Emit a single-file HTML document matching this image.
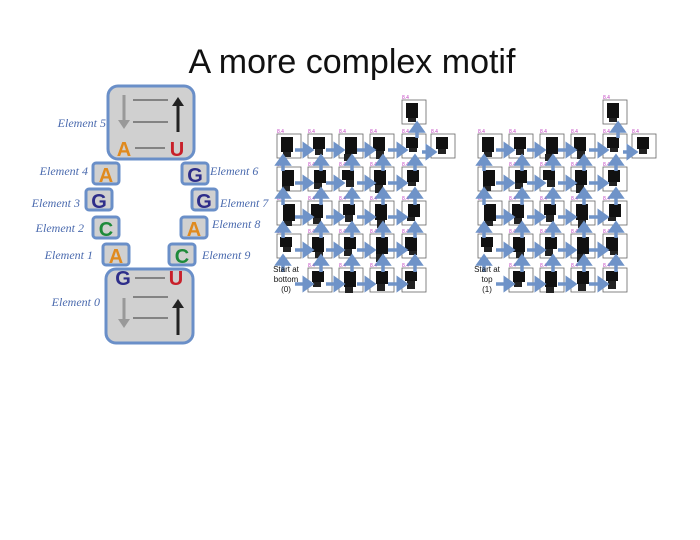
<!DOCTYPE html>
<html><head><meta charset="utf-8"><style>
body{margin:0;background:#fff;width:700px;height:540px;overflow:hidden}
svg{display:block}
.t{font-family:"Liberation Sans",sans-serif}
.el{font-family:"Liberation Serif",serif;font-style:italic;font-size:12px;fill:#4a6aae}
.L{font-family:"Liberation Sans",sans-serif;font-weight:bold;font-size:20px}
</style></head><body>
<svg id="s" width="700" height="540" xmlns="http://www.w3.org/2000/svg">
<defs>
<marker id="ab" markerWidth="5" markerHeight="5" refX="2.5" refY="2.5" orient="auto" markerUnits="strokeWidth"><path d="M0,0 L3.5,2.5 L0,5z" fill="#6f93c8"/></marker>
<marker id="ag" markerWidth="4" markerHeight="4" refX="2" refY="2" orient="auto" markerUnits="strokeWidth"><path d="M0,0 L3,2 L0,4z" fill="#999"/></marker>
<marker id="ak" markerWidth="4" markerHeight="4" refX="2" refY="2" orient="auto" markerUnits="strokeWidth"><path d="M0,0 L3,2 L0,4z" fill="#222"/></marker>
</defs>
<text x="352" y="73" text-anchor="middle" class="t" font-size="34" fill="#111">A more complex motif</text>
<g stroke="#6a8fc8" stroke-width="3" fill="#d0d0d0">
<rect x="108" y="86" width="86" height="73" rx="10"/>
<rect x="106" y="269" width="87" height="74" rx="10"/>
<rect x="93" y="163" width="26" height="21" rx="3"/>
<rect x="182" y="163" width="26" height="21" rx="3"/>
<rect x="86" y="189" width="26" height="21" rx="3"/>
<rect x="192" y="189" width="25" height="21" rx="3"/>
<rect x="93" y="217" width="26" height="21" rx="3"/>
<rect x="181" y="217" width="26" height="21" rx="3"/>
<rect x="103" y="244" width="26" height="21" rx="3"/>
<rect x="169" y="244" width="26" height="21" rx="3"/>
</g>
<g stroke="#555" stroke-width="1.2">
<line x1="133" y1="100" x2="168" y2="100"/><line x1="133" y1="122" x2="168" y2="122"/><line x1="135" y1="148" x2="165" y2="148"/>
<line x1="135" y1="278" x2="165" y2="278"/><line x1="133" y1="297" x2="168" y2="297"/><line x1="133" y1="318" x2="168" y2="318"/>
</g>
<line x1="124" y1="95" x2="124" y2="126" stroke="#999" stroke-width="3" marker-end="url(#ag)"/>
<line x1="178" y1="132" x2="178" y2="100" stroke="#222" stroke-width="3" marker-end="url(#ak)"/>
<line x1="124" y1="298" x2="124" y2="325" stroke="#999" stroke-width="3" marker-end="url(#ag)"/>
<line x1="178" y1="335" x2="178" y2="302" stroke="#222" stroke-width="3" marker-end="url(#ak)"/>
<g class="L" text-anchor="middle">
<text x="124" y="156" fill="#e08a1e">A</text><text x="177" y="156" fill="#c8202a">U</text>
<text x="123" y="285" fill="#2e2e8a">G</text><text x="176" y="285" fill="#c8202a">U</text>
<text x="106" y="182" fill="#e08a1e">A</text><text x="195" y="182" fill="#2e2e8a">G</text>
<text x="99" y="208" fill="#2e2e8a">G</text><text x="204" y="208" fill="#2e2e8a">G</text>
<text x="106" y="236" fill="#1e8a3a">C</text><text x="194" y="236" fill="#e08a1e">A</text>
<text x="116" y="263" fill="#e08a1e">A</text><text x="182" y="263" fill="#1e8a3a">C</text>
</g>
<g class="el">
<text x="106" y="127" text-anchor="end">Element 5</text>
<text x="88" y="175" text-anchor="end">Element 4</text>
<text x="210" y="175">Element 6</text>
<text x="80" y="207" text-anchor="end">Element 3</text>
<text x="220" y="207">Element 7</text>
<text x="84" y="232" text-anchor="end">Element 2</text>
<text x="212" y="228">Element 8</text>
<text x="93" y="259" text-anchor="end">Element 1</text>
<text x="202" y="259">Element 9</text>
<text x="100" y="306" text-anchor="end">Element 0</text>
</g>
<g id="grids"></g>
</svg>
<script>
var g=document.getElementById('grids'),ns="http://www.w3.org/2000/svg";
function el(t,a){var e=document.createElementNS(ns,t);for(var k in a)e.setAttribute(k,a[k]);g.appendChild(e);return e}
var cx=[277,308,339,370,402],ry=[134,167,201,234,268],W=24,H=24;
function grid(o,lab){
 function cell(x,y,seed){
  el('rect',{x:x,y:y,width:W,height:H,fill:'#fff',stroke:'#666','stroke-width':0.8});
  el('text',{x:x,y:y-1,'font-size':5,fill:'#c040c0','font-family':'Liberation Sans'}).textContent='8.4';
  var w=12+(seed*7)%7,h=10+(seed*5)%8;
  el('rect',{x:x+3+(seed%4),y:y+3,width:w,height:h,fill:'#111'});
  el('rect',{x:x+5+(seed%3),y:y+3+h,width:8,height:4+(seed%5),fill:'#222'});
 }
 var s=1;
 for(var r=0;r<5;r++)for(var c=0;c<5;c++){if(r==4&&c==0)continue;cell(cx[c]+o,ry[r],s++);}
 cell(402+o,100,s++);cell(431+o,134,s++);
 var A={stroke:'#6f93c8','stroke-width':3.5,'marker-end':'url(#ab)'};
 function ar(x1,y1,x2,y2){var a=Object.assign({x1:x1,y1:y1,x2:x2,y2:y2},A);el('line',a)}
 for(var r=0;r<5;r++)for(var c=0;c<5;c++){
  var x=cx[c]+o,y=ry[r];
  if(c<4) ar(x+W-6,y+H-8,cx[c+1]+o+3,y+H-8);
  if(r>0) ar(x+W/2-3+(c==0?-3:4),y+4,x+W/2-3+(c==0?-3:4),ry[r-1]+H-1);
 }
 ar(402+o+W/2+3,ry[0]+4,402+o+W/2+3,124);
 ar(402+o+W-4,ry[0]+H-6,431+o+3,ry[0]+H-6);
 var t=el('text',{x:286+o,y:272,'font-size':8,'text-anchor':'middle','font-family':'Liberation Sans',fill:'#111'});
 lab.forEach(function(l,i){var ts=document.createElementNS(ns,'tspan');ts.setAttribute('x',286+o);ts.setAttribute('dy',i?10:0);ts.textContent=l;t.appendChild(ts)});
}
grid(0,['Start at','bottom','(0)']);
grid(201,['Start at','top','(1)']);
</script>
</body></html>
